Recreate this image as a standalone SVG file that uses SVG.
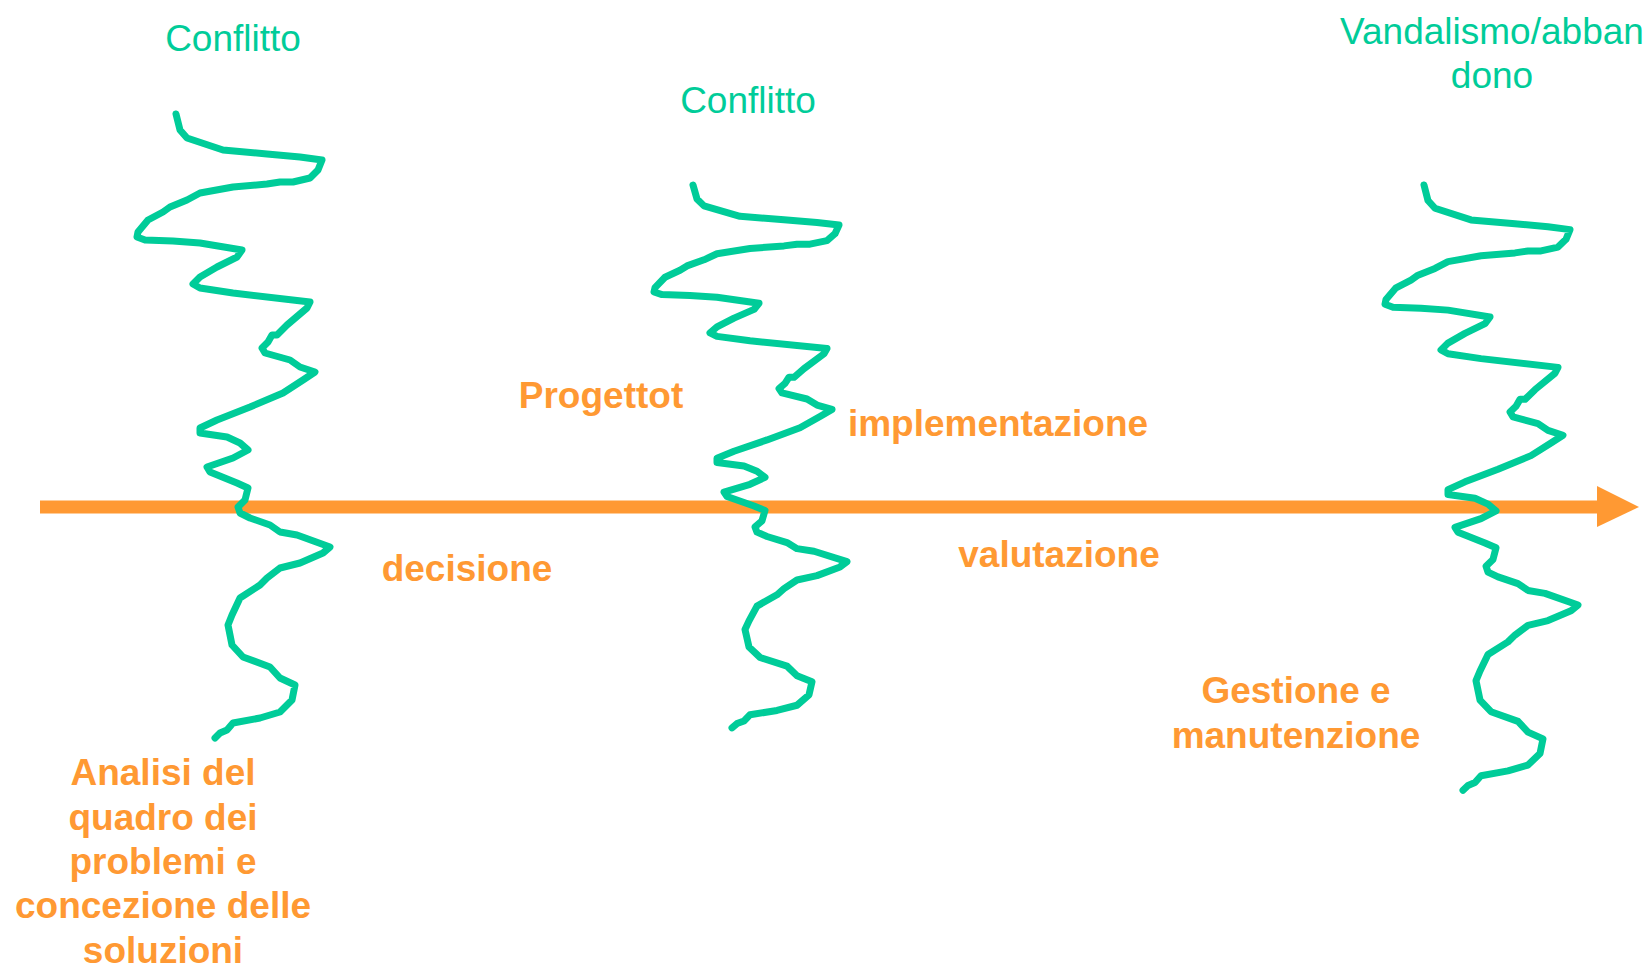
<svg xmlns="http://www.w3.org/2000/svg" width="1647" height="968" viewBox="0 0 1647 968">
<style>
.g{font-family:"Liberation Sans",Arial,sans-serif;font-size:37px;fill:#00CC99;text-anchor:middle}
.o{font-family:"Liberation Sans",Arial,sans-serif;font-size:37px;font-weight:bold;fill:#FF9933;text-anchor:middle}
</style>
<defs>
<path id="squiggle" fill="none" stroke="#00CC99" stroke-width="7" stroke-linejoin="round" stroke-linecap="round" vector-effect="non-scaling-stroke" d="M176,114 L180,130 L187,138 L223,150 L267,154 L300,157 L322,160 L318,170 L310,178 L293,182 L280,182 L267,184 L233,187 L200,193 L187,200 L170,207 L163,212 L148,220 L138,232 L137,237 L145,240 L173,241 L200,243 L242,250 L237,257 L217,267 L200,277 L193,284 L200,288 L233,293 L310,302 L307,308 L287,325 L277,335 L272,335 L268,342 L262,348 L265,353 L290,360 L300,367 L315,372 L303,380 L283,393 L250,407 L217,420 L200,428 L200,433 L227,437 L240,443 L248,450 L233,458 L207,467 L210,472 L237,483 L248,488 L245,500 L238,507 L240,513 L250,518 L270,525 L280,532 L297,535 L330,547 L323,553 L300,563 L280,568 L267,578 L260,585 L240,598 L232,615 L228,625 L232,645 L243,657 L270,667 L280,678 L295,685 L292,700 L280,712 L260,718 L233,723 L227,730 L220,733 L215,738"/>
</defs>
<rect width="1647" height="968" fill="#FFFFFF"/>
<g id="connectors">
<line x1="40" y1="507" x2="1600" y2="507" stroke="#FF9933" stroke-width="13"/>
<polygon points="1597,486 1639,507 1597,527" fill="#FF9933"/>
</g>
<g id="conflict1">
<use href="#squiggle"/>
<text class="g" x="233" y="51">Conflitto</text>
</g>
<g id="conflict2">
<g transform="translate(517,185) scale(1,0.87) translate(0,-114)">
<use href="#squiggle"/>
</g>
<text class="g" x="748" y="113">Conflitto</text>
</g>
<g id="vandalism">
<g transform="translate(1248,185) scale(1,0.97) translate(0,-114)">
<use href="#squiggle"/>
</g>
<text class="g" x="1492" y="44">Vandalismo/abban</text>
<text class="g" x="1492" y="88">dono</text>
</g>
<g id="analisi">
<text class="o" x="163" y="785">Analisi del</text>
<text class="o" x="163" y="830">quadro dei</text>
<text class="o" x="163" y="874">problemi e</text>
<text class="o" x="163" y="918">concezione delle</text>
<text class="o" x="163" y="963">soluzioni</text>
</g>
<g id="decisione"><text class="o" x="467" y="581">decisione</text></g>
<g id="progettot"><text class="o" x="601" y="408">Progettot</text></g>
<g id="implementazione"><text class="o" x="998" y="436">implementazione</text></g>
<g id="valutazione"><text class="o" x="1059" y="567">valutazione</text></g>
<g id="gestione">
<text class="o" x="1296" y="703">Gestione e</text>
<text class="o" x="1296" y="748">manutenzione</text>
</g>
</svg>
